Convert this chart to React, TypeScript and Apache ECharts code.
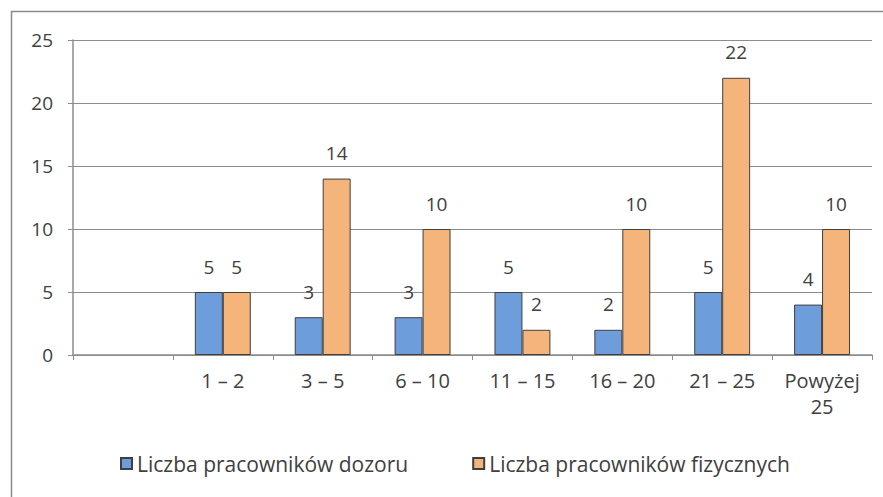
import React, { useEffect, useRef } from "react";
import * as echarts from "echarts";

const categories = ["", "1 – 2", "3 – 5", "6 – 10", "11 – 15", "16 – 20", "21 – 25", "Powyżej\n25"];
const seriesNames = ["Liczba pracowników dozoru", "Liczba pracowników fizycznych"];
const dozoru = [null, 5, 3, 3, 5, 2, 5, 4];
const fizycznych = [null, 5, 14, 10, 2, 10, 22, 10];
const yTicks = { min: 0, max: 25, interval: 5 };

const FONT = "'Open Sans', 'Noto Sans', sans-serif";
const TXT = "#404040";

export default function App() {
  const ref = useRef<HTMLDivElement>(null);
  useEffect(() => {
    if (!ref.current) return;
    const chart = echarts.init(ref.current, null, { renderer: "svg" });
    const label = {
      show: true,
      position: "top",
      distance: 16,
      color: TXT,
      fontSize: 19,
      fontFamily: FONT,
    };
    chart.setOption({
      animation: false,
      backgroundColor: "#ffffff",
      textStyle: { fontFamily: FONT },
      graphic: [
        {
          type: "rect",
          shape: { x: 11.5, y: 11.5, width: 900, height: 520 },
          style: { fill: "none", stroke: "#8a8a8a", lineWidth: 1.5 },
          silent: true,
        },
      ],
      grid: { left: 73, right: 11, top: 40, bottom: 142, containLabel: false },
      legend: {
        bottom: 18,
        left: 115,
        itemWidth: 11,
        itemHeight: 11,
        itemGap: 64,
        icon: "rect",
        textStyle: { color: TXT, fontSize: 21, fontFamily: FONT },
        data: seriesNames,
      },
      xAxis: {
        type: "category",
        data: categories,
        axisLine: { lineStyle: { color: "#8c8c8c", width: 1.5 } },
        axisTick: { show: true, length: 5, lineStyle: { color: "#8c8c8c" } },
        axisLabel: {
          color: TXT,
          fontSize: 20,
          fontFamily: FONT,
          margin: 12,
          lineHeight: 26,
          interval: 0,
        },
      },
      yAxis: {
        type: "value",
        min: yTicks.min,
        max: yTicks.max,
        interval: yTicks.interval,
        axisLine: { show: true, lineStyle: { color: "#8c8c8c", width: 1.5 } },
        axisTick: { show: true, length: 5, lineStyle: { color: "#8c8c8c" } },
        splitLine: { lineStyle: { color: "#8c8c8c", width: 1.2 } },
        axisLabel: { color: TXT, fontSize: 19, fontFamily: FONT, margin: 20 },
      },
      series: [
        {
          name: seriesNames[0],
          type: "bar",
          data: dozoru,
          barGap: "0%",
          barCategoryGap: "44%",
          itemStyle: { color: "#6d9edb", borderColor: "#3f3f3f", borderWidth: 1 },
          label,
        },
        {
          name: seriesNames[1],
          type: "bar",
          data: fizycznych,
          barGap: "0%",
          barCategoryGap: "44%",
          itemStyle: { color: "#f4b47a", borderColor: "#3f3f3f", borderWidth: 1 },
          label,
        },
      ],
    });
    return () => chart.dispose();
  }, []);
  return (
    <div
      ref={ref}
      style={{ position: "fixed", left: 0, top: 0, width: 883, height: 497 }}
    />
  );
}
